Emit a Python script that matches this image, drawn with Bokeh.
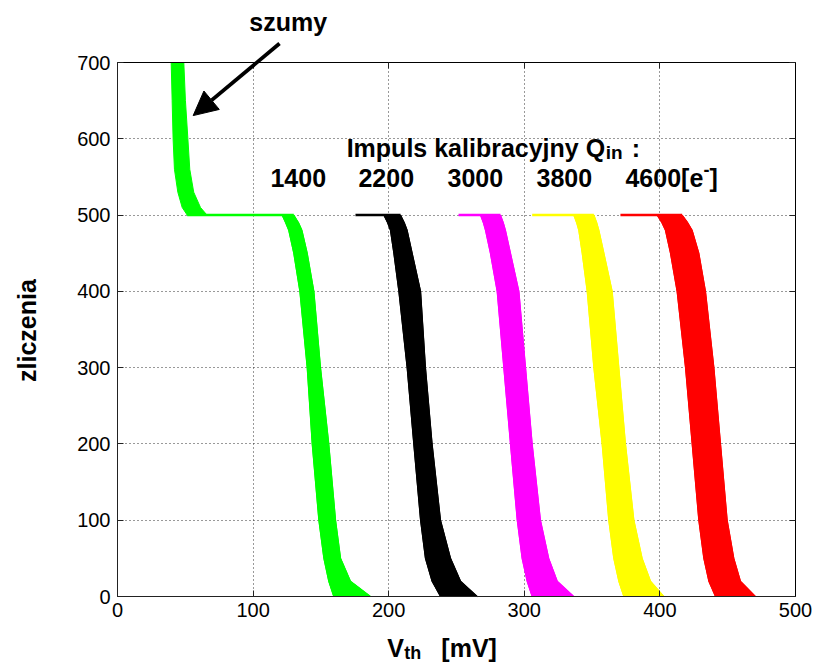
from bokeh.plotting import figure
from bokeh.models import Label, Arrow, NormalHead, LinearAxis, Range1d
from bokeh.embed import file_html
from bokeh.resources import INLINE

# ---------------- data ----------------
X_TICKS = [0, 100, 200, 300, 400, 500]
Y_TICKS = [0, 100, 200, 300, 400, 500, 600, 700]
X_LIMITS = (0, 500)
Y_LIMITS = (0, 700)

CHARGES = ["1400", "2200", "3000", "3800", "4600"]
COLORS = ["#00ff00", "#000000", "#ff00ff", "#ffff00", "#ff0000"]

# S-curve bands: x position [mV] of the earliest (left) and latest (right)
# channel at the given count levels
Y_LEVELS = [500, 490, 480, 450, 400, 300, 200, 100, 50, 20, 0]
LEFT_1400 = [121.4, 124.0, 126.3, 130.0, 134.5, 139.9, 143.6, 148.5, 152.2, 155.8, 159.5]
RIGHT_1400 = [130.0, 133.5, 136.0, 139.9, 144.8, 149.7, 155.8, 160.8, 164.5, 171.8, 186.6]
LEFT_2200 = [196.4, 199.2, 201.3, 203.8, 207.5, 213.6, 218.5, 223.5, 227.1, 232.0, 238.2]
RIGHT_2200 = [208.7, 211.5, 213.6, 217.3, 223.5, 227.1, 232.0, 238.2, 245.6, 253.0, 265.3]
LEFT_3000 = [267.7, 269.8, 271.4, 275.0, 280.0, 284.9, 289.8, 294.8, 298.4, 302.1, 305.8]
RIGHT_3000 = [282.4, 284.5, 286.1, 289.8, 296.0, 300.9, 305.8, 311.9, 318.0, 324.3, 336.5]
LEFT_3800 = [336.5, 338.6, 340.2, 342.7, 346.4, 351.3, 357.4, 362.3, 366.0, 369.7, 373.4]
RIGHT_3800 = [351.3, 353.4, 355.0, 358.7, 364.8, 369.7, 374.6, 380.8, 386.9, 393.1, 402.9]
LEFT_4600 = [398.0, 401.5, 404.1, 407.8, 412.7, 418.9, 423.8, 428.7, 432.4, 436.1, 441.0]
RIGHT_4600 = [416.4, 420.5, 423.8, 428.7, 433.6, 439.8, 444.7, 449.6, 454.5, 459.4, 470.5]

# where the flat 500-count plateau of each band begins
PLATEAU_START = [51.4, 175.5, 251.5, 305.8, 370.9]
PLATEAU_LEVEL = 500

# noise ("szumy") part of the 1400 band
NOISE_Y = [700, 650, 600, 560, 530, 510, 500]
NOISE_LEFT = [39.6, 40.3, 41.0, 42.0, 44.5, 47.7, 51.4]
NOISE_RIGHT = [48.9, 50.1, 51.9, 53.3, 56.2, 61.2, 66.0]

LEFTS = [LEFT_1400, LEFT_2200, LEFT_3000, LEFT_3800, LEFT_4600]
RIGHTS = [RIGHT_1400, RIGHT_2200, RIGHT_3000, RIGHT_3800, RIGHT_4600]

FONT = "Liberation Sans"

# ---------------- figure ----------------
# The frame fills the whole canvas; the 0..500 x 0..700 box is drawn by
# axes at fixed locations so that the texts and the arrow outside the box
# are not clipped.
W, H = 813, 663
BOX_L, BOX_R, BOX_T, BOX_B = 117, 795, 62, 596   # pixel box of the axes
sx = (BOX_R - BOX_L) / (X_LIMITS[1] - X_LIMITS[0])
sy = (BOX_B - BOX_T) / (Y_LIMITS[1] - Y_LIMITS[0])
x_range = Range1d(X_LIMITS[0] - BOX_L / sx, X_LIMITS[1] + (W - BOX_R) / sx)
y_range = Range1d(Y_LIMITS[0] - (H - BOX_B) / sy, Y_LIMITS[1] + BOX_T / sy)

p = figure(width=W, height=H, title=None, x_range=x_range, y_range=y_range,
           output_backend="svg", toolbar_location=None,
           min_border=0, min_border_left=0, min_border_right=0,
           min_border_top=0, min_border_bottom=0)

p.background_fill_color = "white"
p.border_fill_color = "white"
p.outline_line_color = None

for ax, ticks, lim in ((p.xaxis, X_TICKS, X_LIMITS), (p.yaxis, Y_TICKS, Y_LIMITS)):
    ax.ticker = ticks
    ax.bounds = lim
    ax.fixed_location = 0
    ax.major_label_text_font = FONT
    ax.major_label_text_font_size = "20px"
    ax.major_label_text_color = "black"
    ax.major_tick_in = 6
    ax.major_tick_out = 0
    ax.minor_tick_line_color = None
    ax.axis_line_color = "#222222"
    ax.major_tick_line_color = "#222222"
p.xaxis.major_label_standoff = 6
p.yaxis.major_label_standoff = 7

for side, ticks, lim, loc in (("right", Y_TICKS, Y_LIMITS, X_LIMITS[1]),
                              ("above", X_TICKS, X_LIMITS, Y_LIMITS[1])):
    a = LinearAxis(ticker=ticks, bounds=lim, fixed_location=loc,
                   major_label_text_font_size="1px",
                   major_label_text_color=None, major_label_standoff=0,
                   axis_line_color="black", major_tick_in=6, major_tick_out=0,
                   minor_tick_line_color=None, major_tick_line_color="#222222")
    p.add_layout(a, side)

p.xgrid.ticker = X_TICKS
p.ygrid.ticker = Y_TICKS
p.xgrid.bounds = X_LIMITS
p.ygrid.bounds = Y_LIMITS
p.xgrid.cross_bounds = Y_LIMITS
p.ygrid.cross_bounds = X_LIMITS
for g in (p.xgrid, p.ygrid):
    g.grid_line_color = "#333333"
    g.grid_line_dash = "1 3"
    g.grid_line_width = 1

# ---------------- bands ----------------
p.patch(NOISE_LEFT + NOISE_RIGHT[::-1], NOISE_Y + NOISE_Y[::-1],
        fill_color=COLORS[0], line_color=COLORS[0], line_width=1)

for col, left, right, start in zip(COLORS, LEFTS, RIGHTS, PLATEAU_START):
    p.line([start, right[0]], [PLATEAU_LEVEL, PLATEAU_LEVEL],
           line_color=col, line_width=2.5)
    p.patch(left + right[::-1], Y_LEVELS + Y_LEVELS[::-1],
            fill_color=col, line_color=col, line_width=1)
    p.line(left, Y_LEVELS, line_color=col, line_width=1.2)
    p.line(right, Y_LEVELS, line_color=col, line_width=1.2)

# ---------------- annotations ----------------
def lab(x, y, text, size=25, bold=True, xo=0, yo=0, align="left",
        baseline="alphabetic", angle=0.0):
    p.add_layout(Label(x=x, y=y, text=text, x_offset=xo, y_offset=yo,
                       text_font=FONT, text_font_size=f"{size}px",
                       text_font_style="bold" if bold else "normal",
                       text_color="black", text_align=align,
                       text_baseline=baseline, angle=angle))

# title of the charge list
lab(169, 588, "Impuls kalibracyjny Q")
lab(169, 588, "in", size=19, xo=259, yo=-5)
lab(169, 588, ":", xo=285)

# charge values
label_x = [112.8, 177.7, 243.4, 309.0, 374.6]
for x, q in zip(label_x, CHARGES):
    lab(x, 548, q + ("[e" if q == CHARGES[-1] else ""))
lab(label_x[-1], 548, "-", size=18, xo=78, yo=9)
lab(label_x[-1], 548, "]", xo=84)

# noise annotation
lab(125.9, 753, "szumy", align="center")
p.add_layout(Arrow(end=NormalHead(size=24, fill_color="black", line_color="black"),
                   x_start=119.5, y_start=724.8, x_end=55.8, y_end=630.4,
                   line_width=3.8, line_color="black"))

# axis titles
lab(-66.5, 348.6, "zliczenia", align="center", baseline="middle", angle=1.5708)
lab(199, -67, "V")
lab(199, -67, "th", size=18, xo=17, yo=-5)
lab(199, -67, "[mV]", xo=54)

open("out.html", "w").write(file_html(p, INLINE))
